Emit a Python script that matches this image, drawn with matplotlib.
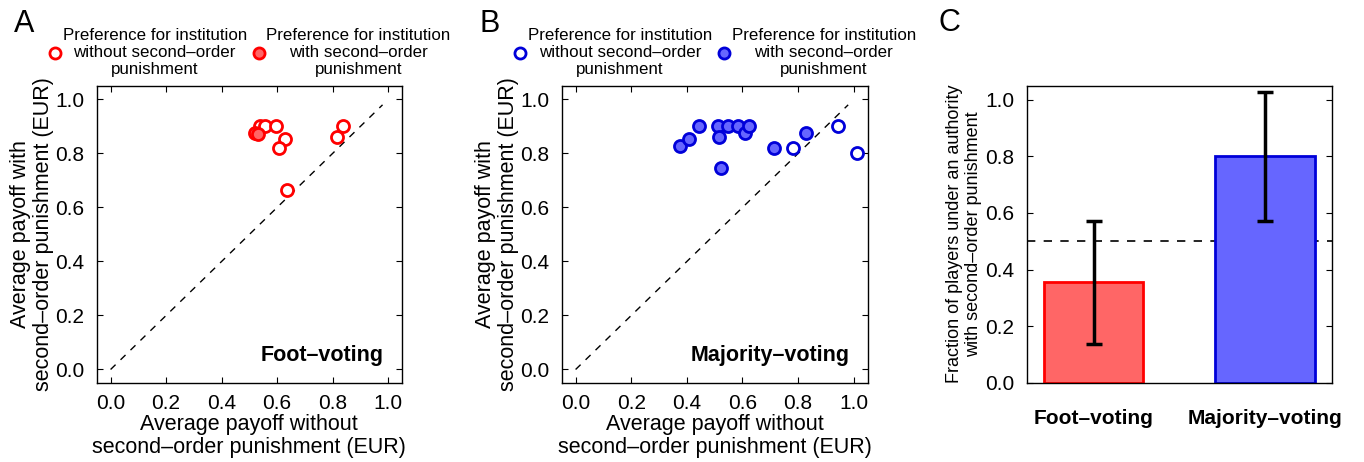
import numpy as np
import matplotlib
matplotlib.use("Agg")
import matplotlib.pyplot as plt
from matplotlib.lines import Line2D

plt.rcParams['font.family'] = ['Liberation Sans', 'DejaVu Sans']
plt.rcParams['font.size'] = 15

# Panel A: foot-voting, payoff without / with second-order punishment
foot_open_x = [0.540, 0.556, 0.596, 0.630, 0.607, 0.637, 0.816, 0.836]
foot_open_y = [0.901, 0.901, 0.901, 0.853, 0.822, 0.664, 0.862, 0.901]
foot_fill_x = [0.520, 0.530]
foot_fill_y = [0.876, 0.872]

# Panel B: majority-voting
maj_fill_x = [0.375, 0.409, 0.445, 0.512, 0.517, 0.523, 0.548, 0.585, 0.608, 0.623, 0.714, 0.829]
maj_fill_y = [0.827, 0.854, 0.901, 0.901, 0.862, 0.746, 0.901, 0.901, 0.874, 0.901, 0.819, 0.877]
maj_open_x = [0.780, 0.944, 1.010]
maj_open_y = [0.819, 0.901, 0.802]

# Panel C: fraction under authority with second-order punishment
categories = ['Foot\u2013voting', 'Majority\u2013voting']
fractions = [0.357, 0.800]
err_low = [0.138, 0.570]
err_high = [0.573, 1.028]

RED_EDGE = (1.0, 0.0, 0.0)
RED_FACE = (1.0, 0.4, 0.4)
BLUE_EDGE = (0.0, 0.0, 0.85)
BLUE_FACE = (0.4, 0.4, 1.0)

fig = plt.figure(figsize=(13.64, 4.62), dpi=100)
axA = fig.add_axes([0.0709, 0.171, 0.2238, 0.643])
axB = fig.add_axes([0.4118, 0.171, 0.2243, 0.643])
axC = fig.add_axes([0.7527, 0.1717, 0.2236, 0.6428])

ticks = [0.0, 0.2, 0.4, 0.6, 0.8, 1.0]


def style_axes(ax):
    ax.tick_params(direction='in', top=True, right=True, length=4, width=0.8, labelsize=15)
    ax.tick_params(axis='y', pad=9)
    ax.tick_params(axis='x', pad=8)
    for s in ax.spines.values():
        s.set_linewidth(1.0)


def scatter_panel(ax, open_x, open_y, fill_x, fill_y, edge, face, label, lab_txt):
    ax.plot([0, 0.98], [0, 0.98], ls=(0, (5, 5)), color='k', lw=1.0)
    ax.scatter(open_x, open_y, s=75, facecolors='white', edgecolors=edge, linewidths=2.0, zorder=3)
    ax.scatter(fill_x, fill_y, s=75, facecolors=face, edgecolors=edge, linewidths=2.0, zorder=3)
    ax.set_xlim(-0.05, 1.05)
    ax.set_ylim(-0.05, 1.05)
    ax.set_xticks(ticks)
    ax.set_yticks(ticks)
    ax.set_xticklabels(['%.1f' % t for t in ticks])
    ax.set_yticklabels(['%.1f' % t for t in ticks])
    ax.set_xlabel('Average payoff without\nsecond\u2013order punishment (EUR)', fontsize=15.5,
                  linespacing=1.1, labelpad=1)
    ax.set_ylabel('Average payoff with\nsecond\u2013order punishment (EUR)', fontsize=15.5,
                  linespacing=1.1, labelpad=1)
    ax.text(0.985, 0.05, label, ha='right', va='center', fontweight='bold', fontsize=15.5)
    style_axes(ax)
    handles = [
        Line2D([], [], ls='none', marker='o', markersize=8, markerfacecolor='white',
               markeredgecolor=edge, markeredgewidth=2.0),
        Line2D([], [], ls='none', marker='o', markersize=8, markerfacecolor=face,
               markeredgecolor=edge, markeredgewidth=2.0),
    ]
    labels = ['Preference for institution\nwithout second\u2013order\npunishment',
              'Preference for institution\nwith second\u2013order\npunishment']
    leg = ax.legend(handles, labels, ncol=2, frameon=False, loc='lower center',
                    bbox_to_anchor=(0.5, 1.0), fontsize=12.2, handletextpad=0.05,
                    columnspacing=0.3, handlelength=0.8, borderaxespad=0.3,
                    borderpad=0.2)
    for t in leg.get_texts():
        t.set_multialignment('center')
        t.set_linespacing(1.2)
    ax.text(-0.27, 1.21, lab_txt, transform=ax.transAxes, fontsize=22, va='center', ha='left')


scatter_panel(axA, foot_open_x, foot_open_y, foot_fill_x, foot_fill_y,
              RED_EDGE, RED_FACE, 'Foot\u2013voting', 'A')
scatter_panel(axB, maj_open_x, maj_open_y, maj_fill_x, maj_fill_y,
              BLUE_EDGE, BLUE_FACE, 'Majority\u2013voting', 'B')

# Panel C
pos = np.arange(1, len(categories) + 1)
lower = np.array(fractions) - np.array(err_low)
upper = np.array(err_high) - np.array(fractions)
axC.bar(pos, fractions, width=0.58, color=[RED_FACE, BLUE_FACE],
        edgecolor=[RED_EDGE, BLUE_EDGE], linewidth=2.0, zorder=2)
axC.axhline(0.5, ls=(0, (5, 5)), color='k', lw=1.2, zorder=1)
axC.errorbar(pos, fractions, yerr=[lower, upper], fmt='none', ecolor='k',
             elinewidth=2.5, capsize=6, capthick=2.5, zorder=4)
axC.set_xlim(0.61, 2.39)
axC.set_ylim(0, 1.05)
axC.set_yticks(ticks)
axC.set_yticklabels(['%.1f' % t for t in ticks])
axC.set_xticks(pos)
axC.set_xticklabels(categories, fontweight='bold', fontsize=15.5)
axC.set_ylabel('Fraction of players under an authority\nwith second\u2013order punishment',
               fontsize=13, linespacing=1.2, labelpad=2)
style_axes(axC)
axC.tick_params(axis='x', length=0, pad=19)
axC.text(-0.29, 1.21, 'C', transform=axC.transAxes, fontsize=22, va='center', ha='left')

fig.savefig('out.png', dpi=100)
